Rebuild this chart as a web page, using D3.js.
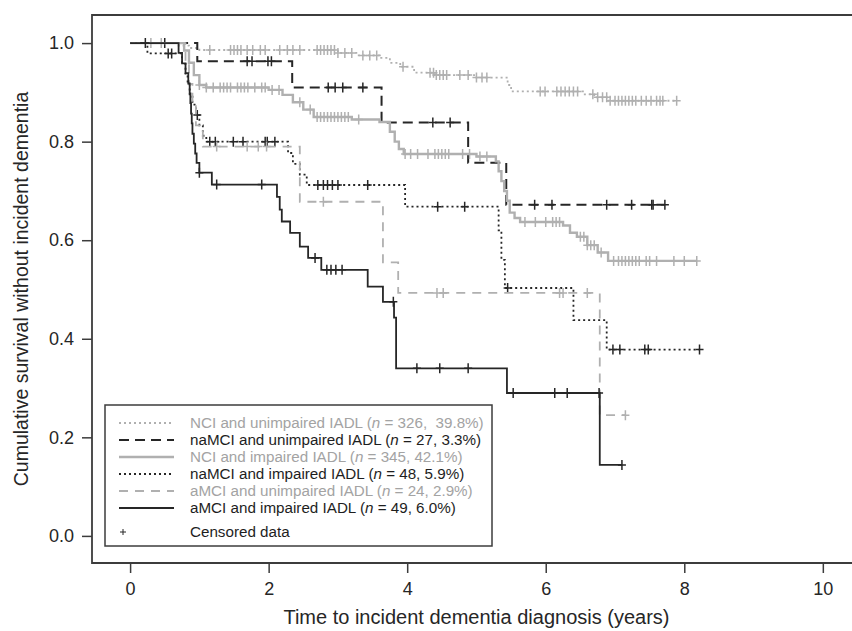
<!DOCTYPE html>
<html>
<head>
<meta charset="utf-8">
<script src="https://cdn.jsdelivr.net/npm/d3@7"></script>
<style>
  body { margin: 0; background: #fff; }
  svg { display: block; font-family: "Liberation Sans", Arial, sans-serif; }
  text { white-space: pre; }
</style>
</head>
<body>
<svg id="chart" width="852" height="631"></svg>
<script>
// Kaplan-Meier steps: event times (years) and survival after each step
const nciUnimpTimes = [0, 0.7, 0.85, 1.0, 3.0, 3.3, 3.6, 3.75, 3.9, 4.1, 4.4, 5.0, 5.45, 5.5, 6.55, 6.7, 6.9];
const nciUnimpSurv  = [1, 0.995, 0.99, 0.986, 0.98, 0.975, 0.97, 0.96, 0.952, 0.94, 0.935, 0.93, 0.915, 0.902, 0.896, 0.89, 0.883];
const nciUnimpCensor = [0.3, 0.45, 1.15, 1.45, 1.5, 1.55, 1.6, 1.69, 1.77, 1.88, 1.95, 2.16, 2.27, 2.35, 2.45, 2.7, 2.75, 2.8,
  2.85, 2.9, 2.95, 3.0, 3.1, 3.2, 3.36, 3.46, 3.56, 3.94, 4.33, 4.38, 4.42, 4.47, 4.52, 4.57, 4.76, 4.88, 5.0, 5.08, 5.15,
  5.92, 5.99, 6.16, 6.22, 6.28, 6.34, 6.4, 6.46, 6.68, 6.75, 6.82, 6.88, 6.93, 7.0, 7.05, 7.1, 7.15, 7.2, 7.25, 7.3, 7.38,
  7.45, 7.52, 7.6, 7.65, 7.69, 7.89];
const nciUnimpEnd = 7.89;

const naUnimpTimes = [0, 0.97, 2.34, 3.63, 4.88, 5.43];
const naUnimpSurv  = [1, 0.963, 0.91, 0.839, 0.757, 0.672];
const naUnimpCensor = [0.5, 1.69, 1.76, 1.99, 2.04, 2.86, 2.96, 3.07, 3.36, 4.37, 4.62, 5.84, 6.09, 6.88, 7.24, 7.53, 7.55, 7.72];
const naUnimpEnd = 7.72;

const nciImpTimes = [0, 0.78, 0.85, 0.92, 1.0, 1.1, 2.0, 2.2, 2.35, 2.5, 2.65, 3.2, 3.6, 3.75, 3.82, 3.88, 3.95, 5.0,
  5.28, 5.32, 5.36, 5.4, 5.44, 5.48, 5.55, 5.63, 6.25, 6.35, 6.45, 6.6, 6.75, 6.9];
const nciImpSurv  = [1, 0.985, 0.96, 0.935, 0.915, 0.91, 0.905, 0.895, 0.88, 0.865, 0.85, 0.845, 0.84, 0.82, 0.8, 0.785, 0.775, 0.77,
  0.76, 0.74, 0.72, 0.7, 0.68, 0.656, 0.645, 0.637, 0.63, 0.615, 0.607, 0.59, 0.575, 0.558];
const nciImpCensor = [1.0, 1.1, 1.2, 1.3, 1.35, 1.4, 1.45, 1.55, 1.6, 1.65, 1.7, 1.8, 1.9, 1.95, 2.05, 2.15, 2.45, 2.6, 2.7,
  2.75, 2.8, 2.85, 2.9, 2.95, 3.0, 3.05, 3.1, 3.15, 3.3, 3.97, 4.05, 4.15, 4.3, 4.4, 4.45, 4.5, 4.55, 4.6, 4.8, 4.9, 5.05,
  5.15, 5.7, 5.85, 6.0, 6.1, 6.15, 6.2, 6.5, 6.55, 6.6, 6.65, 6.7, 6.8, 6.98, 7.05, 7.1, 7.15, 7.2, 7.25, 7.3, 7.35, 7.45,
  7.5, 7.6, 7.85, 8.0, 8.18];
const nciImpEnd = 8.18;

const naImpTimes = [0, 0.25, 0.75, 0.8, 0.83, 0.86, 0.9, 0.95, 1.0, 1.05, 1.1, 2.28, 2.35, 2.45, 2.55, 3.97, 5.32, 5.36, 5.41, 6.4, 6.88];
const naImpSurv  = [1, 0.979, 0.958, 0.938, 0.917, 0.896, 0.875, 0.854, 0.833, 0.812, 0.8, 0.777, 0.755, 0.733, 0.712, 0.668, 0.62, 0.56, 0.503, 0.438, 0.378];
const naImpCensor = [0.55, 0.6, 0.97, 1.15, 1.23, 1.49, 1.63, 1.95, 1.98, 2.09, 2.71, 2.79, 2.85, 2.92, 3.0, 3.43, 4.44, 4.83,
  5.45, 6.97, 7.07, 7.43, 7.48, 8.22];
const naImpEnd = 8.22;

const aUnimpTimes = [0, 0.8, 0.85, 0.9, 0.95, 1.05, 2.45, 3.65, 3.87, 6.78];
const aUnimpSurv  = [1, 0.958, 0.917, 0.875, 0.833, 0.79, 0.678, 0.555, 0.493, 0.245];
const aUnimpCensor = [1.25, 1.69, 1.85, 1.97, 2.79, 4.43, 4.52, 6.2, 6.25, 6.6, 7.15];
const aUnimpEnd = 7.15;

const aImpTimes = [0, 0.7, 0.75, 0.8, 0.84, 0.86, 0.87, 0.88, 0.89, 0.9, 0.92, 0.94, 0.96, 1.0, 1.18,
  2.12, 2.16, 2.19, 2.31, 2.45, 2.57, 2.76, 3.43, 3.65, 3.81, 3.84, 5.44, 6.78];
const aImpSurv  = [1, 0.98, 0.959, 0.939, 0.918, 0.898, 0.878, 0.857, 0.837, 0.816, 0.796, 0.776, 0.757, 0.737, 0.713,
  0.688, 0.662, 0.638, 0.615, 0.587, 0.564, 0.54, 0.506, 0.475, 0.443, 0.34, 0.29, 0.144];
const aImpCensor = [0.22, 1.0, 1.25, 1.9, 2.67, 2.84, 2.9, 2.97, 3.06, 3.8, 4.14, 4.47, 4.88, 5.53, 6.13, 6.31, 6.77, 7.1];
const aImpEnd = 7.1;

const legendLabels = [
  ["NCI and unimpaired IADL (", " = 326,  39.8%)"],
  ["naMCI and unimpaired IADL (", " = 27, 3.3%)"],
  ["NCI and impaired IADL (", " = 345, 42.1%)"],
  ["naMCI and impaired IADL (", " = 48, 5.9%)"],
  ["aMCI and unimpaired IADL (", " = 24, 2.9%)"],
  ["aMCI and impaired IADL (", " = 49, 6.0%)"]
];

const xTicks = [0, 2, 4, 6, 8, 10];
const yTicks = [0, 0.2, 0.4, 0.6, 0.8, 1.0];

const GREY = "#b0b0b0", DARK = "#262626";

const series = [
  { times: nciUnimpTimes, surv: nciUnimpSurv, censor: nciUnimpCensor, end: nciUnimpEnd, color: GREY, dash: "2,3", width: 1.8 },
  { times: naUnimpTimes, surv: naUnimpSurv, censor: naUnimpCensor, end: naUnimpEnd, color: DARK, dash: "10,6", width: 2 },
  { times: nciImpTimes, surv: nciImpSurv, censor: nciImpCensor, end: nciImpEnd, color: GREY, dash: null, width: 2.4 },
  { times: naImpTimes, surv: naImpSurv, censor: naImpCensor, end: naImpEnd, color: DARK, dash: "2,3", width: 1.8 },
  { times: aUnimpTimes, surv: aUnimpSurv, censor: aUnimpCensor, end: aUnimpEnd, color: GREY, dash: "9,7", width: 1.8 },
  { times: aImpTimes, surv: aImpSurv, censor: aImpCensor, end: aImpEnd, color: DARK, dash: null, width: 1.8 }
];

const svg = d3.select("#chart");
const frame = { left: 92, top: 15, bottom: 563 };

// frame runs past the right edge, as in the original
const x = d3.scaleLinear().domain([-0.55, 10.45]).range([frame.left, 854]);
const y = d3.scaleLinear().domain([-0.055, 1.057]).range([frame.bottom, frame.top]);

svg.append("path")
  .attr("d", `M860,${frame.top}H${frame.left}V${frame.bottom}H860`)
  .attr("fill", "none")
  .attr("stroke", "#3c3c3c")
  .attr("stroke-width", 1.8);

const yAxis = svg.append("g")
  .attr("transform", `translate(${frame.left},0)`)
  .call(d3.axisLeft(y).tickValues(yTicks).tickFormat(d3.format(".1f")).tickSize(10).tickPadding(8));
const xAxis = svg.append("g")
  .attr("transform", `translate(0,${frame.bottom})`)
  .call(d3.axisBottom(x).tickValues(xTicks).tickFormat(d3.format("d")).tickSize(10).tickPadding(9));

[yAxis, xAxis].forEach(g => {
  g.select(".domain").remove();
  g.selectAll(".tick line").attr("stroke", "#3c3c3c").attr("stroke-width", 1.5);
  g.selectAll(".tick text").attr("fill", "#262626").style("font-size", "18px")
    .style("font-family", "'Liberation Sans', Arial, sans-serif");
});

svg.append("text")
  .attr("x", x(5))
  .attr("y", 624)
  .attr("text-anchor", "middle")
  .attr("fill", "#262626")
  .style("font-size", "20px")
  .text("Time to incident dementia diagnosis (years)");

svg.append("text")
  .attr("transform", `translate(28,${(frame.top + frame.bottom) / 2}) rotate(-90)`)
  .attr("text-anchor", "middle")
  .attr("fill", "#262626")
  .style("font-size", "19.5px")
  .text("Cumulative survival without incident dementia");

const stepLine = d3.line()
  .x(d => x(d[0]))
  .y(d => y(d[1]))
  .curve(d3.curveStepAfter);

const survAt = (s, t) => s.surv[d3.bisectRight(s.times, t) - 1];

const curves = svg.append("g");
series.forEach(s => {
  const pts = s.times.map((t, i) => [t, s.surv[i]]);
  pts.push([s.end, s.surv[s.surv.length - 1]]);
  const g = curves.append("g");
  g.append("path")
    .attr("d", stepLine(pts))
    .attr("fill", "none")
    .attr("stroke", s.color)
    .attr("stroke-width", s.width)
    .attr("stroke-dasharray", s.dash);
  g.selectAll("path.censor")
    .data(s.censor)
    .join("path")
    .attr("class", "censor")
    .attr("d", t => {
      const cx = x(t), cy = y(survAt(s, t));
      return `M${cx - 4},${cy}H${cx + 4}M${cx},${cy - 5}V${cy + 5}`;
    })
    .attr("stroke", s.color)
    .attr("stroke-width", 1.5);
});

// legend
const legend = svg.append("g");
legend.append("rect")
  .attr("x", 105).attr("y", 405)
  .attr("width", 387).attr("height", 141)
  .attr("fill", "#fff")
  .attr("stroke", "#3c3c3c")
  .attr("stroke-width", 1.5);

const rowY = d3.scaleLinear().domain([0, 5]).range([423, 508]);
series.forEach((s, i) => {
  legend.append("line")
    .attr("x1", 119).attr("x2", 174)
    .attr("y1", rowY(i)).attr("y2", rowY(i))
    .attr("stroke", s.color)
    .attr("stroke-width", s.width)
    .attr("stroke-dasharray", s.dash);
  const t = legend.append("text")
    .attr("x", 190).attr("y", rowY(i) + 5)
    .attr("fill", s.color === GREY ? "#a3a3a3" : "#1e1e1e")
    .style("font-size", "15.2px");
  t.append("tspan").text(legendLabels[i][0]);
  t.append("tspan").style("font-style", "italic").text("n");
  t.append("tspan").text(legendLabels[i][1]);
});

legend.append("path")
  .attr("d", "M120,532H126M123,529V535")
  .attr("stroke", "#262626")
  .attr("stroke-width", 1);
legend.append("text")
  .attr("x", 190).attr("y", 537)
  .attr("fill", "#1e1e1e")
  .style("font-size", "15.2px")
  .text("Censored data");
</script>
</body>
</html>
